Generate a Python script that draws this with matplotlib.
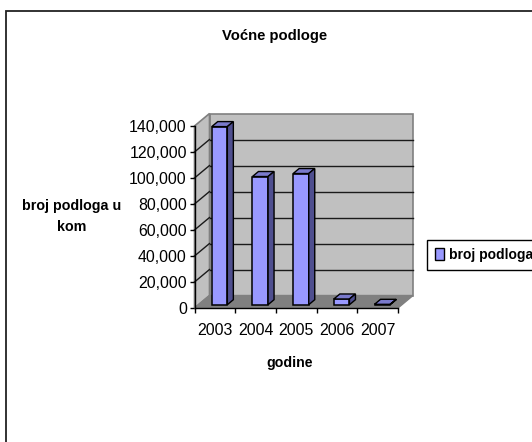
import matplotlib
matplotlib.use("Agg")
import matplotlib.pyplot as plt
from matplotlib.patches import Polygon, Patch, Rectangle

plt.rcParams['font.family'] = ['Liberation Sans', 'DejaVu Sans']

# values
years = ["2003", "2004", "2005", "2006", "2007"]
counts = [137000, 98600, 100900, 4400, 300]
y_ticks = [0, 20000, 40000, 60000, 80000, 100000, 120000, 140000]
y_labels = ["0", "20,000", "40,000", "60,000", "80,000", "100,000", "120,000", "140,000"]

W, H = 532, 442
LEFT, RIGHT, BOTTOM, TOP = 194.5, 398.0, 308.0, 126.0  # front plane, pixels from top left

fig = plt.figure(figsize=(W / 100, H / 100), dpi=100, facecolor="white")
ax = fig.add_axes([LEFT / W, 1 - BOTTOM / H, (RIGHT - LEFT) / W, (BOTTOM - TOP) / H])
ax.set_xlim(0, len(years))
ax.set_ylim(0, 140000)
ax.patch.set_visible(False)
for name in ["top", "right"]:
    ax.spines[name].set_visible(False)
for name in ["left", "bottom"]:
    ax.spines[name].set_linewidth(1.0)
    ax.spines[name].set_zorder(6)

# pixel sizes to data units
px_x = len(years) / (RIGHT - LEFT)
px_y = 140000 / (BOTTOM - TOP)
dx = 15 * px_x
dy = 12.5 * px_y
n = len(years)

# chart frame, runs off the right and bottom of the image
fig.add_artist(Rectangle((5.5 / W, -0.05), 1.1, 1.05 - 11.5 / H, transform=fig.transFigure,
                         fill=False, edgecolor="#222222", linewidth=1.3))

# walls and floor
ax.add_patch(Polygon([(dx, dy), (n + dx, dy), (n + dx, 140000 + dy), (dx, 140000 + dy)],
                     facecolor="#C0C0C0", edgecolor="#808080", lw=1.2, clip_on=False, zorder=1))
ax.add_patch(Polygon([(0, 0), (dx, dy), (dx, 140000 + dy), (0, 140000)],
                     facecolor="#C0C0C0", edgecolor="#808080", lw=1.2, clip_on=False, zorder=1))
ax.add_patch(Polygon([(0, 0), (n, 0), (n + dx, dy), (dx, dy)],
                     facecolor="#808080", edgecolor="#808080", lw=1, clip_on=False, zorder=2))

# grid on back and left wall
for t in y_ticks[1:-1]:
    ax.plot([dx, n + dx], [t + dy, t + dy], color="#1a1a1a", lw=1.0, clip_on=False, zorder=2)
    ax.plot([0, dx], [t, t + dy], color="#1a1a1a", lw=1.0, clip_on=False, zorder=2)

# bars: front face plus top and side faces
bar_w = 15.6 * px_x
shift = 4.7 * px_x
base = 3.3 * px_y
bx = 6 * px_x
by = 5 * px_y
centers = [i + 0.5 + shift for i in range(n)]
ax.bar(centers, counts, width=bar_w, bottom=base, color="#9999FF", edgecolor="black",
       linewidth=1.1, clip_on=False, zorder=4)
for c, v in zip(centers, counts):
    x0, x1 = c - bar_w / 2, c + bar_w / 2
    top = base + v
    ax.add_patch(Polygon([(x0, top), (x1, top), (x1 + bx, top + by), (x0 + bx, top + by)],
                         facecolor="#7A7ACC", edgecolor="black", lw=1.0, clip_on=False, zorder=4))
    ax.add_patch(Polygon([(x1, base), (x1 + bx, base + by), (x1 + bx, top + by), (x1, top)],
                         facecolor="#4F4F8F", edgecolor="black", lw=1.0, clip_on=False, zorder=4))

# axes ticks
ax.set_yticks(y_ticks)
ax.set_yticklabels(y_labels, fontsize=11.4)
ax.set_xticks(range(n + 1))
ax.set_xticklabels([])
ax.set_xticks([i + 0.5 for i in range(n)], minor=True)
ax.set_xticklabels(years, minor=True, fontsize=11.4)
ax.tick_params(axis="y", length=3.5, width=1.0, pad=2)
ax.tick_params(axis="x", which="major", length=3.5, width=1.0)
ax.tick_params(axis="x", which="minor", length=0, pad=10.5)

# titles
fig.text(275 / W, 1 - 36 / H, "Voćne podloge", ha="center", va="center", fontsize=10.6, fontweight="bold")
fig.text(290 / W, 1 - 363 / H, "godine", ha="center", va="center", fontsize=10.2, fontweight="bold")
fig.text(72 / W, 1 - 216.5 / H, "broj podloga u\nkom", ha="center", va="center", fontsize=10.3,
         fontweight="bold", linespacing=1.7)

# legend runs past the right edge like in the original
leg = fig.legend(handles=[Patch(facecolor="#9999FF", edgecolor="black", label="broj podloga")],
                 loc="lower left", bbox_to_anchor=(426.7 / W, 1 - 270 / H), frameon=True, fancybox=False,
                 edgecolor="black", framealpha=1, prop={"size": 10.0, "weight": "bold"},
                 handlelength=0.65, handleheight=0.9, handletextpad=0.35, borderpad=0.58, borderaxespad=0)
leg.get_frame().set_linewidth(1.0)

fig.savefig("out.png", dpi=100)
